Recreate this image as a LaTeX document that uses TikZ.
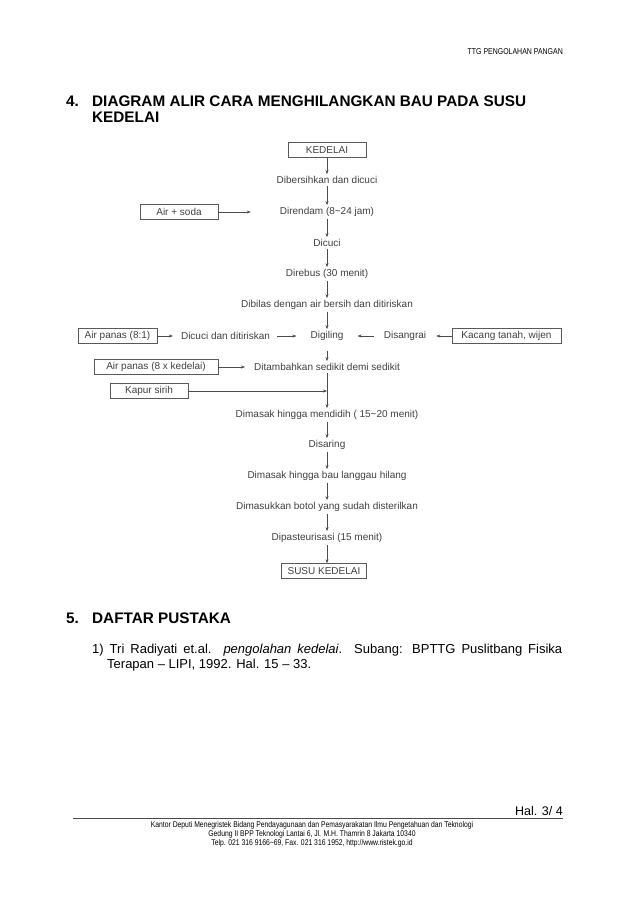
\documentclass[tikz,border=0pt]{standalone}
\usepackage{fontspec}
\setmainfont{Liberation Sans}
\newfontfamily\sempit[FakeStretch=0.82]{Liberation Sans}
\usetikzlibrary{arrows.meta}

\begin{document}
\begin{tikzpicture}[x=1pt,y=-1pt,
  every node/.style={inner sep=0pt},
  langkah/.style={font=\fontsize{10}{12}\selectfont,text=black!75,inner sep=2pt},
  kotak/.style={langkah,draw=black!65,minimum height=15pt,inner xsep=4pt},
  panah/.style={draw=black!70,-{Stealth[length=4pt,width=3pt]}},
  judul/.style={font=\fontsize{15.3}{17}\selectfont\bfseries,anchor=base west},
  kecil/.style={font=\sempit\fontsize{8.5}{9}\selectfont}]
\useasboundingbox[fill=white] (0,0) rectangle (638,903);

\node[kecil,anchor=base east] (kepala) at (563,54) {TTG PENGOLAHAN PANGAN};

\node[judul] (no4) at (66,106) {4.};
\node[judul] (judul4) at (92,106) {DIAGRAM ALIR CARA MENGHILANGKAN BAU PADA SUSU};
\node[judul] (judul4b) at (92,122) {KEDELAI};

\node[kotak,minimum width=78pt] (kedelai) at (327,150) {KEDELAI};
\node[langkah] (bersih) at (327,180) {Dibersihkan dan dicuci};
\node[langkah] (rendam) at (327,212) {Direndam (8\textasciitilde24 jam)};
\node[langkah] (cuci) at (327,243) {Dicuci};
\node[langkah] (rebus) at (327,274) {Direbus (30 menit)};
\node[langkah] (bilas) at (327,305) {Dibilas dengan air bersih dan ditiriskan};
\node[langkah] (giling) at (327,336) {Digiling};
\node[langkah] (tambah) at (327,367) {Ditambahkan sedikit demi sedikit};
\node[langkah] (didih) at (327,415) {Dimasak hingga mendidih ( 15\textasciitilde20 menit)};
\node[langkah] (saring) at (327,445) {Disaring};
\node[langkah] (langu) at (327,476) {Dimasak hingga bau langgau hilang};
\node[langkah] (botol) at (327,507) {Dimasukkan botol yang sudah disterilkan};
\node[langkah] (pasteur) at (327,538) {Dipasteurisasi (15 menit)};
\node[kotak,minimum width=85pt] (susu) at (324,571) {SUSU KEDELAI};

\node[kotak,minimum width=78pt] (soda) at (179,212) {Air + soda};
\node[kotak,minimum width=79pt] (panas1) at (117.5,336) {Air panas (8:1)};
\node[langkah] (cucitiris) at (225.5,336) {Dicuci dan ditiriskan};
\node[langkah] (sangrai) at (405,336) {Disangrai};
\node[kotak,minimum width=109pt] (kacang) at (506.5,336) {Kacang tanah, wijen};
\node[kotak,minimum width=124pt] (panas2) at (156,367) {Air panas (8 x kedelai)};
\node[kotak,minimum width=78pt] (kapur) at (149,391) {Kapur sirih};

\foreach \a/\b in {kedelai/bersih,bersih/rendam,rendam/cuci,cuci/rebus,rebus/bilas,
  bilas/giling,tambah/didih,didih/saring,saring/langu,langu/botol,botol/pasteur,pasteur/susu}
  \draw[panah] (\a.south) -- (\a.south |- \b.north);
\draw[panah,shorten <=8pt] (giling.south) -- (giling.south |- tambah.north);

\draw[panah,shorten >=27pt] (soda) -- (soda -| rendam.west);
\draw[panah,shorten >=6pt] (panas1) -- (cucitiris);
\draw[panah,shorten <=5pt,shorten >=12pt] (cucitiris) -- (giling);
\draw[panah,shorten <=8pt,shorten >=12pt] (sangrai) -- (giling);
\draw[panah,shorten >=8pt] (kacang) -- (sangrai);
\draw[panah,shorten >=7pt] (panas2) -- (panas2 -| tambah.west);
\draw[panah] (kapur) -- (kapur -| tambah.south);

\node[judul] (no5) at (66,623) {5.};
\node[judul] (judul5) at (92,623) {DAFTAR PUSTAKA};
\node[font=\fontsize{13}{15}\selectfont,anchor=base west] (pustaka1) at (92,653)
  {\makebox[470pt][s]{1) Tri Radiyati et.al. \textit{pengolahan kedelai}. Subang: BPTTG Puslitbang Fisika}};
\node[font=\fontsize{13}{15}\selectfont,anchor=base west] (pustaka2) at (107,668)
  {Terapan -- LIPI, 1992. Hal. 15 -- 33.};

\node[font=\fontsize{12.5}{15}\selectfont,anchor=base east] (hal) at (563,815) {Hal. 3/ 4};
\draw[black!70] (73,818) -- (563,818);
\node[kecil,align=center,anchor=north,font=\sempit\fontsize{8.3}{9}\selectfont] (kaki) at (312,821)
  {Kantor Deputi Menegristek Bidang Pendayagunaan dan Pemasyarakatan Ilmu Pengetahuan dan Teknologi\\
   Gedung II BPP Teknologi Lantai 6, Jl. M.H. Thamrin 8 Jakarta 10340\\
   Telp. 021 316 9166\textasciitilde69, Fax. 021 316 1952, http://www.ristek.go.id};
\end{tikzpicture}
\end{document}
